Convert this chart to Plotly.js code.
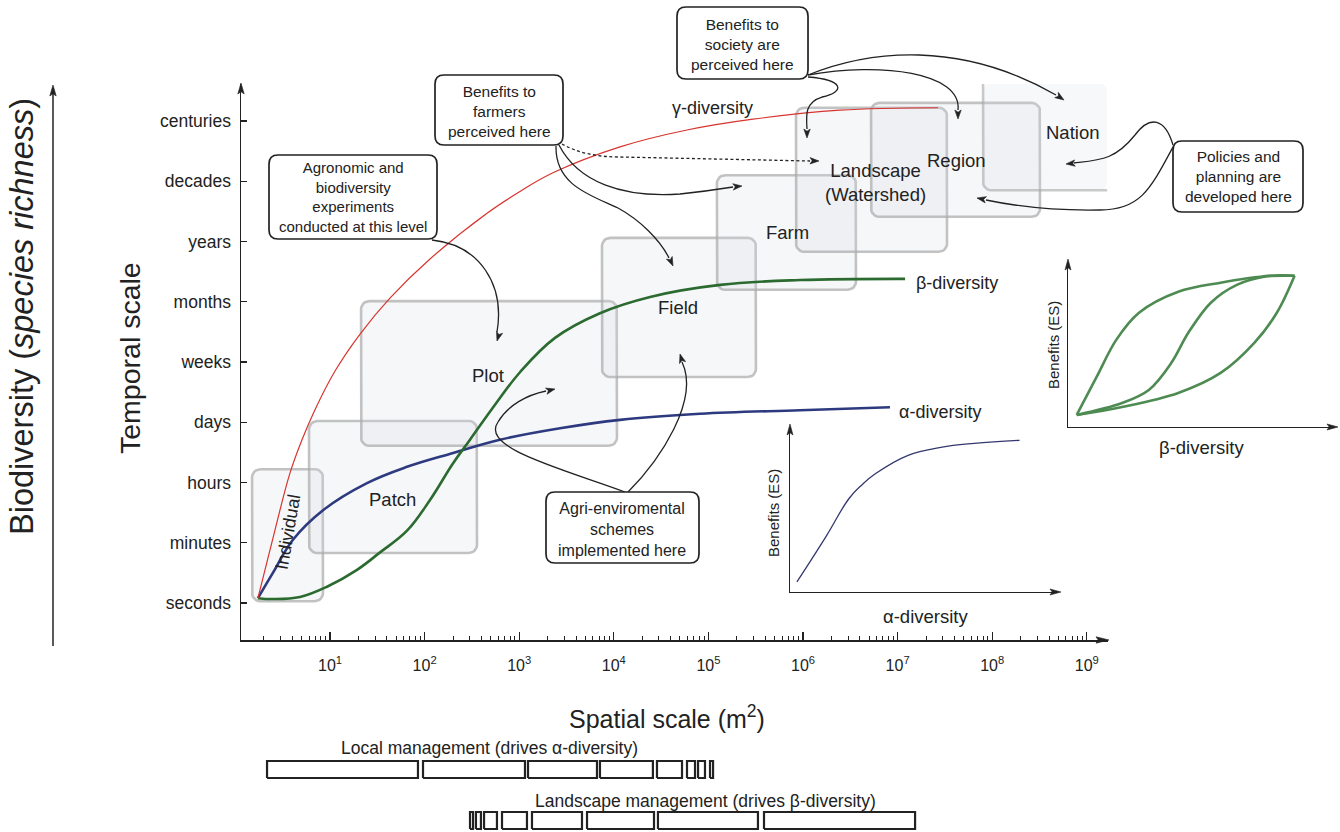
<!DOCTYPE html>
<html><head><meta charset="utf-8">
<script src="https://cdn.plot.ly/plotly-3.0.1.min.js"></script>
<style>html,body{margin:0;padding:0;background:#fff;}#chart{width:1340px;height:832px;}</style>
</head><body><div id="chart"></div>
<script>
// ---------------- DATA ----------------
const timeLabels = ['seconds','minutes','hours','days','weeks','months','years','decades','centuries'];
const spatialTickVals = [1e1,1e2,1e3,1e4,1e5,1e6,1e7,1e8,1e9];
const spatialTickText = ['10<sup>1</sup>','10<sup>2</sup>','10<sup>3</sup>','10<sup>4</sup>','10<sup>5</sup>','10<sup>6</sup>','10<sup>7</sup>','10<sup>8</sup>','10<sup>9</sup>'];

// curves: spatial scale (m2) vs temporal-scale index (0 = seconds ... 8 = centuries)
const gammaX = [1.73,2.62,3.78,5.06,6.9,11.3,20.7,43,114,457,1019,2275,11640,59400,296000,2.46e6,2.67e7];
const gammaY = [0.08,1.21,2.16,2.71,3.20,3.85,4.46,5.06,5.71,6.47,6.83,7.14,7.57,7.85,8.03,8.18,8.22];
const alphaX = [1.73,2.49,4.06,8.44,24.6,65.2,200,627,2700,11640,81500,929000,8.3e6];
const alphaY = [0.08,0.50,1.05,1.54,1.99,2.26,2.49,2.71,2.90,3.04,3.14,3.20,3.25];
const betaX  = [1.73,2.49,4.82,9.3,19.3,33.8,65.2,114,200,302,555,1019,2390,7140,24200,133000,929000,1.2e7];
const betaY  = [0.08,0.066,0.10,0.27,0.55,0.84,1.20,1.71,2.32,2.71,3.29,3.83,4.40,4.81,5.08,5.28,5.36,5.38];

// organisation levels: spatial extent (m2) and temporal extent (index)
const scaleNames = ['Individual','Patch','Plot','Field','Farm','Landscape','Region','Nation'];
const scaleXmin = [1.5, 6.0, 21.3, 7500, 123000, 843000, 5.24e6, 8.0e7];
const scaleXmax = [8.43, 358, 10800, 318000, 3.63e6, 3.33e7, 3.2e8, 1.64e9];
const scaleYmin = [0.03, 0.83, 2.61, 3.75, 5.20, 5.83, 6.41, 6.85];
const scaleYmax = [2.22, 3.02, 5.01, 6.06, 7.10, 8.22, 8.30, 8.63];

// inset: benefits vs alpha-diversity (relative units)
const insetAlphaX = [0.026,0.137,0.222,0.271,0.322,0.444,0.567,0.693,0.863];
const insetAlphaY = [0.060,0.333,0.554,0.636,0.702,0.810,0.857,0.881,0.899];
// inset: benefits vs beta-diversity (three shapes)
const insetBetaUpperX = [0.033,0.108,0.182,0.268,0.416,0.576,0.762,0.855];
const insetBetaUpperY = [0.073,0.303,0.527,0.691,0.818,0.873,0.915,0.915];
const insetBetaMidX = [0.033,0.204,0.305,0.390,0.454,0.539,0.639,0.740,0.855];
const insetBetaMidY = [0.073,0.145,0.224,0.388,0.570,0.752,0.861,0.909,0.915];
const insetBetaLowX = [0.033,0.204,0.416,0.576,0.703,0.788,0.855];
const insetBetaLowY = [0.073,0.121,0.206,0.327,0.509,0.691,0.915];

// management bars (spatial extents, m2)
const localMgmt = [[2.16,85.1],[96.2,1151],[1239,6640],[7140,25900],[28600,52600],[59400,72200],[77700,92000],[104000,112000]];
const landscapeMgmt = [[302,325],[349,394],[425,582],[658,1208],[1365,4610],[5210,26600],[29300,334000],[387000,1.53e7]];
const mgmtRows = {local:[3,4], landscape:[0,1]};

// ---------------- LAYOUT HELPERS ----------------
const W = 1340, H = 832;
const X = p => p / W;
const Y = p => 1 - p / H;
const FONT = 'Liberation Sans, Arial, Helvetica, sans-serif';
const INK = '#222';

function roundedBox(x0, x1, y0, y1) {
  const a = Math.log10(x0), b = Math.log10(x1), rx = 0.085, ry = 0.133;
  const xs = [], ys = [];
  const corner = (cx, cy, t0, t1) => {
    for (let i = 0; i <= 6; i++) {
      const t = t0 + (t1 - t0) * i / 6;
      xs.push(Math.pow(10, cx + rx * Math.cos(t))); ys.push(cy + ry * Math.sin(t));
    }
  };
  corner(b - rx, y0 + ry, -Math.PI / 2, 0);
  corner(b - rx, y1 - ry, 0, Math.PI / 2);
  corner(a + rx, y1 - ry, Math.PI / 2, Math.PI);
  corner(a + rx, y0 + ry, Math.PI, 1.5 * Math.PI);
  xs.push(xs[0]); ys.push(ys[0]);
  return {xs, ys};
}
function openBox(x0, x1, y0, y1) { // left + bottom edges only
  const a = Math.log10(x0), rx = 0.085, ry = 0.133;
  const xs = [x0, x0], ys = [y1, y0 + ry];
  for (let i = 0; i <= 6; i++) {
    const t = Math.PI + 0.5 * Math.PI * i / 6;
    xs.push(Math.pow(10, a + rx + rx * Math.cos(t))); ys.push(y0 + ry + ry * Math.sin(t));
  }
  xs.push(x1); ys.push(y0);
  return {xs, ys};
}
function pxPath(str) {
  const tok = str.trim().split(/\s+/); let out = []; let isX = true;
  tok.forEach(t => {
    if (/^[A-Za-z]$/.test(t)) { out.push(t); isX = true; }
    else { const v = parseFloat(t); out.push(isX ? X(v).toFixed(5) : Y(v).toFixed(5)); isX = !isX; }
  });
  return out.join(' ');
}
function roundRect(x0, y0, x1, y1, r) {
  return pxPath(`M ${x0+r} ${y0} L ${x1-r} ${y0} Q ${x1} ${y0} ${x1} ${y0+r} L ${x1} ${y1-r} Q ${x1} ${y1} ${x1-r} ${y1} L ${x0+r} ${y1} Q ${x0} ${y1} ${x0} ${y1-r} L ${x0} ${y0+r} Q ${x0} ${y0} ${x0+r} ${y0} Z`);
}
function head(tx, ty, dx, dy, L = 9, w = 3.2) {
  const n = Math.hypot(dx, dy); dx /= n; dy /= n; const nx = -dy, ny = dx;
  const bx = tx - L * dx, by = ty - L * dy;
  const mx = tx - (L - 2.2) * dx, my = ty - (L - 2.2) * dy;
  return {type: 'path', xref: 'paper', yref: 'paper', line: {width: 0.6, color: INK}, fillcolor: INK,
    path: pxPath(`M ${tx} ${ty} L ${bx + w*nx} ${by + w*ny} L ${mx} ${my} L ${bx - w*nx} ${by - w*ny} Z`)};
}
function curve(str, dash) {
  return {type: 'path', xref: 'paper', yref: 'paper', path: pxPath(str),
    line: {color: INK, width: 1.3, dash: dash || 'solid'}, fillcolor: 'rgba(0,0,0,0)'};
}
function label(text, x, y, size, extra) {
  return Object.assign({text, x: X(x), y: Y(y), xref: 'paper', yref: 'paper', showarrow: false,
    font: {family: FONT, size, color: INK}, xanchor: 'center', yanchor: 'middle'}, extra || {});
}

// ---------------- TRACES ----------------
const traces = [];
scaleNames.forEach((name, i) => {
  const rb = roundedBox(scaleXmin[i], scaleXmax[i], scaleYmin[i], scaleYmax[i]);
  const isOpen = name === 'Nation';
  traces.push({x: rb.xs, y: rb.ys, type: 'scatter', mode: 'lines', fill: 'toself',
    fillcolor: isOpen ? 'rgba(215,222,228,0.2)' : 'rgba(212,218,226,0.22)',
    line: {color: isOpen ? 'rgba(0,0,0,0)' : 'rgba(170,170,170,0.7)', width: 2.6},
    hoverinfo: 'skip', showlegend: false});
  if (isOpen) {
    const ob = openBox(scaleXmin[i], scaleXmax[i], scaleYmin[i], scaleYmax[i]);
    traces.push({x: ob.xs, y: ob.ys, type: 'scatter', mode: 'lines',
      line: {color: 'rgba(170,170,170,0.62)', width: 2.6}, hoverinfo: 'skip', showlegend: false});
  }
});
traces.push({x: alphaX, y: alphaY, type: 'scatter', mode: 'lines', line: {color: '#2e3a7f', width: 2.6, shape: 'spline', smoothing: 1.1}, showlegend: false});
traces.push({x: betaX, y: betaY, type: 'scatter', mode: 'lines', line: {color: '#2b6b30', width: 2.6, shape: 'spline', smoothing: 1.1}, showlegend: false});
traces.push({x: gammaX, y: gammaY, type: 'scatter', mode: 'lines', line: {color: '#d8342e', width: 1.2, shape: 'spline', smoothing: 1.1}, showlegend: false});

traces.push({x: insetAlphaX, y: insetAlphaY, xaxis: 'x2', yaxis: 'y2', type: 'scatter', mode: 'lines',
  line: {color: '#35386e', width: 1.3, shape: 'spline', smoothing: 1.2}, showlegend: false});
[[insetBetaUpperX, insetBetaUpperY], [insetBetaMidX, insetBetaMidY], [insetBetaLowX, insetBetaLowY]].forEach(c => {
  traces.push({x: c[0], y: c[1], xaxis: 'x3', yaxis: 'y3', type: 'scatter', mode: 'lines',
    line: {color: '#4e8b52', width: 2.6, shape: 'spline'}, showlegend: false});
});
function barTrace(segs, row) {
  const xs = [], ys = [];
  segs.forEach(s => { xs.push(s[0], s[1], s[1], s[0], s[0], null); ys.push(row[0], row[0], row[1], row[1], row[0], null); });
  return {x: xs, y: ys, xaxis: 'x', yaxis: 'y4', type: 'scatter', mode: 'lines',
    line: {color: INK, width: 2.2}, hoverinfo: 'skip', showlegend: false};
}
traces.push(barTrace(localMgmt, mgmtRows.local));
traces.push(barTrace(landscapeMgmt, mgmtRows.landscape));

// ---------------- SHAPES ----------------
const minorVals = [];
for (let k = 0; k <= 9; k++) for (let m = 2; m <= 9; m++) minorVals.push(m * Math.pow(10, k));

const shapes = [];
shapes.push(curve('M 432 240 C 480 245 505 285 497 332'));            shapes.push(head(497, 341, -0.3, 1));
shapes.push(curve('M 562 144 Q 585 157 620 157 L 810 161', '3px,2.5px'));   shapes.push(head(819, 161, 1, 0.02));
shapes.push(curve('M 559 145 C 578 182 622 198 680 194 Q 708 191 733 187')); shapes.push(head(742, 186, 1, -0.1));
shapes.push(curve('M 556 146 C 555 185 590 195 618 208 C 640 220 660 240 669 258')); shapes.push(head(673, 266, 0.45, 1));
shapes.push(curve('M 808 77 C 845 80 845 92 822 97 C 805 102 806 115 807 129')); shapes.push(head(807, 138, 0, 1));
shapes.push(curve('M 808 75 C 880 62 962 72 958 110'));               shapes.push(head(958, 119, 0, 1));
shapes.push(curve('M 808 75 C 870 50 960 40 1056 95'));               shapes.push(head(1064, 100, 1.5, 1));
shapes.push(curve('M 1173 145 C 1165 118 1150 115 1135 135 C 1115 160 1100 160 1074 163')); shapes.push(head(1066, 164, -1, 0.1));
shapes.push(curve('M 1173 147 C 1150 190 1140 210 1100 210 C 1050 211 1010 205 986 200')); shapes.push(head(977, 198, -1, -0.2));
shapes.push(curve('M 625 492 C 560 468 480 448 498 422 C 508 405 527 395 546 391')); shapes.push(head(555, 389, 1, -0.25));
shapes.push(curve('M 628 492 C 660 460 700 400 682 362'));            shapes.push(head(680, 354, -0.3, -1));
[[269,155,437,239],[435,75,563,145],[677,7,808,79],[1173,141,1303,212],[546,492,699,563]].forEach(b => {
  shapes.push({type: 'path', xref: 'paper', yref: 'paper', path: roundRect(b[0], b[1], b[2], b[3], 9),
    line: {color: INK, width: 1.7}, fillcolor: '#ffffff'});
});
shapes.push(head(241, 83, 0, -1, 11, 3.2));
shapes.push(head(1109, 640, 1, 0, 13, 3.2));
shapes.push({type: 'line', xref: 'paper', yref: 'paper', x0: X(53), x1: X(53), y0: Y(646), y1: Y(92), line: {color: INK, width: 1.5}});
shapes.push(head(53, 85, 0, -1, 11, 3.2));
shapes.push(head(1061, 592, 1, 0, 11, 3));
shapes.push(head(790, 424, 0, -1, 11, 3));
shapes.push(head(1338, 427, 1, 0, 11, 3));
shapes.push(head(1068, 259, 0, -1, 11, 3));

// ---------------- ANNOTATIONS ----------------
const annotations = [
  label('Individual', 288, 532, 18, {textangle: -80}),
  label('Patch', 392, 499, 18.5), label('Plot', 488, 375, 18.5), label('Field', 678, 307, 18.5),
  label('Farm', 787, 233, 18.5), label('Landscape<br>(Watershed)', 875, 182, 18.5),
  label('Region', 956, 160, 18.5), label('Nation', 1072, 132, 18.5),
  label('γ-diversity', 712, 108, 18), label('β-diversity', 957, 283, 18), label('α-diversity', 940, 412, 18),
  label('Agronomic and<br>biodiversity<br>experiments<br>conducted at this level', 353, 197, 15),
  label('Benefits to<br>farmers<br>perceived here', 499, 111, 15.5),
  label('Benefits to<br>society are<br>perceived here', 742, 44, 15.5),
  label('Policies and<br>planning are<br>developed here', 1238, 176, 15.5),
  label('Agri-enviromental<br>schemes<br>implemented here', 622, 529, 16),
  label('Temporal scale', 130, 358, 28.5, {textangle: -90}),
  label('Biodiversity (<i>species richness</i>)', 22, 317, 32.5, {textangle: -90}),
  label('Spatial scale (m<sup>2</sup>)', 667, 717, 25),
  label('Benefits (ES)', 773, 513, 15, {textangle: -90}),
  label('α-diversity', 925, 616, 18.5),
  label('Benefits (ES)', 1053, 345, 15, {textangle: -90}),
  label('β-diversity', 1201, 447, 18.5),
  label('Local management (drives α-diversity)', 489, 748, 17.5),
  label('Landscape management (drives β-diversity)', 705, 801, 17.5)
];

const hiddenAx = {showgrid: false, zeroline: false, showticklabels: false, ticks: ''};
const layout = {
  width: W, height: H, margin: {l: 0, r: 0, t: 0, b: 0},
  paper_bgcolor: '#ffffff', plot_bgcolor: 'rgba(0,0,0,0)',
  font: {family: FONT, color: INK}, showlegend: false, hovermode: false,
  xaxis: {type: 'log', domain: [X(241), X(1108)], range: [0.0592, 9.224], anchor: 'y',
    showline: true, linecolor: INK, linewidth: 1.5, showgrid: false, zeroline: false,
    tickmode: 'array', tickvals: spatialTickVals, ticktext: spatialTickText,
    ticks: 'inside', ticklen: 8, tickwidth: 1.3, tickcolor: INK, ticklabelstandoff: 10,
    tickfont: {family: FONT, size: 16, color: INK},
    minor: {tickmode: 'array', tickvals: minorVals, ticks: 'inside', ticklen: 4.5, tickwidth: 1, tickcolor: INK, showgrid: false}},
  yaxis: {domain: [Y(640), Y(84)], range: [-0.614, 8.614], anchor: 'x',
    showline: true, linecolor: INK, linewidth: 1.5, showgrid: false, zeroline: false,
    tickmode: 'array', tickvals: timeLabels.map((_, i) => i), ticktext: timeLabels,
    ticks: 'inside', ticklen: 6, tickwidth: 1.3, tickcolor: INK, ticklabelstandoff: 5,
    tickfont: {family: FONT, size: 17.5, color: INK}},
  xaxis2: Object.assign({domain: [X(790), X(1056)], range: [0, 1], anchor: 'y2', showline: true, linecolor: INK, linewidth: 1.3}, hiddenAx),
  yaxis2: Object.assign({domain: [Y(592), Y(430)], range: [0, 0.96], anchor: 'x2', showline: true, linecolor: INK, linewidth: 1.3}, hiddenAx),
  xaxis3: Object.assign({domain: [X(1068), X(1333)], range: [0, 1], anchor: 'y3', showline: true, linecolor: INK, linewidth: 1.3}, hiddenAx),
  yaxis3: Object.assign({domain: [Y(427), Y(265)], range: [0, 0.98], anchor: 'x3', showline: true, linecolor: INK, linewidth: 1.3}, hiddenAx),
  yaxis4: Object.assign({domain: [0, Y(756)], range: [-0.176, 4.294], anchor: 'x', visible: false}, hiddenAx),
  shapes, annotations
};
Plotly.newPlot('chart', traces, layout, {staticPlot: true, displayModeBar: false});
</script></body></html>
